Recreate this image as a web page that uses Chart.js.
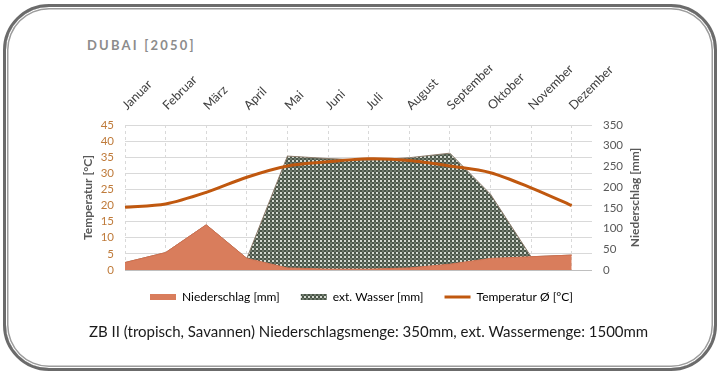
<!DOCTYPE html>
<html lang="de">
<head>
<meta charset="UTF-8">
<title>Dubai 2050</title>
<script src="https://cdn.jsdelivr.net/npm/chart.js"></script>
<style>
  body { margin: 0; padding: 0; background: #fff; font-family: Lato, "Open Sans", sans-serif; }
  #frame {
    position: absolute; left: 3px; top: 4px; width: 714px; height: 367px;
    box-sizing: border-box; border: 3px solid #6b6b6b; border-radius: 46px;
    box-shadow: inset 0 0 0 1px #fff, inset 0 0 0 2.5px #9c9c9c;
  }
  #title {
    position: absolute; left: 87px; top: 37px;
    font-size: 13px; font-weight: bold; letter-spacing: 2.2px; color: #8c8c8c;
  }
  #chart-container { position: absolute; left: 0; top: 0; width: 722px; height: 378px; }
  #caption {
    position: absolute; left: 89px; top: 322px; white-space: nowrap;
    font-size: 15px; color: #1a1a1a;
  }
</style>
</head>
<body>
<div id="frame"></div>
<div id="title">DUBAI [2050]</div>
<div id="chart-container"><canvas id="klima"></canvas></div>
<div id="caption">ZB II (tropisch, Savannen) Niederschlagsmenge: 350mm, ext. Wassermenge: 1500mm</div>

<script>
    // Monate + Werte
    const monate = ['Januar', 'Februar', 'März', 'April', 'Mai', 'Juni', 'Juli',
                    'August', 'September', 'Oktober', 'November', 'Dezember'];
    const niederschlag = [18, 42, 109, 28, 5, 2, 2, 5, 14, 28, 32, 36];        // mm
    const extWasser    = [0, 0, 0, 0, 270, 267, 263, 266, 268, 155, 0, 0];     // mm (gestapelt)
    const temperatur   = [19.5, 20.5, 24.1, 28.8, 32.3, 33.6, 34.5, 34, 32.3, 30.2, 25.5, 20]; // °C

    const tempTicks = { min: 0, max: 45, step: 5 };
    const nsTicks   = { min: 0, max: 350, step: 50 };

    // Punktraster fuer ext. Wasser
    function makePattern() {
        const c = document.createElement('canvas');
        c.width = 4; c.height = 4;
        const p = c.getContext('2d');
        p.fillStyle = '#4a5548';
        p.fillRect(0, 0, 4, 4);
        p.fillStyle = '#d3d9d0';
        p.fillRect(0, 0, 2, 2);
        p.fillStyle = '#6e7a6c';
        p.fillRect(2, 2, 2, 2);
        return p.createPattern(c, 'repeat');
    }
    const raster = makePattern();

    const orange = '#d97d5c';
    const tempColor = '#c0580f';
    const grey = '#595959';
    const rightTitle = 'Niederschlag [mm]';

    // rechter Achsentitel von unten nach oben lesen (wie links)
    const rightTitlePlugin = {
        id: 'rightTitle',
        afterDraw(chart) {
            const s = chart.scales.y2;
            const a = chart.chartArea;
            const c = chart.ctx;
            c.save();
            c.translate(s.right - 4 - 7.2, (a.top + a.bottom) / 2);
            c.rotate(-Math.PI / 2);
            c.font = 'bold 12px Lato';
            c.fillStyle = grey;
            c.textAlign = 'center';
            c.textBaseline = 'middle';
            c.fillText(rightTitle, 0, 0);
            c.restore();
        }
    };

    const ctx = document.getElementById('klima').getContext('2d');
    const chart = new Chart(ctx, {
        type: 'line',
        plugins: [rightTitlePlugin],
        data: {
            labels: monate,
            datasets: [
                {
                    label: 'Niederschlag [mm]',
                    data: niederschlag,
                    yAxisID: 'y2',
                    backgroundColor: orange,
                    borderColor: '#d0704f',
                    borderWidth: 1,
                    pointRadius: 0,
                    tension: 0,
                    fill: 'origin',
                    order: 1
                },
                {
                    label: 'ext. Wasser [mm]',
                    data: extWasser,
                    yAxisID: 'y2',
                    backgroundColor: raster,
                    borderColor: '#8c7b6b',
                    borderWidth: 1,
                    pointRadius: 0,
                    tension: 0,
                    fill: '-1',
                    order: 1
                },
                {
                    label: 'Temperatur Ø [°C]',
                    data: temperatur,
                    yAxisID: 'y',
                    borderColor: tempColor,
                    backgroundColor: tempColor,
                    borderWidth: 3,
                    pointRadius: 0,
                    tension: 0.3,
                    fill: false,
                    order: 0
                }
            ]
        },
        options: {
            responsive: true,
            maintainAspectRatio: false,
            animation: false,
            layout: { padding: { left: 77, right: 76, top: 65, bottom: 65 } },
            plugins: {
                tooltip: { enabled: false },
                legend: {
                    position: 'bottom',
                    labels: {
                        usePointStyle: true,
                        pointStyleWidth: 26,
                        boxHeight: 6,
                        padding: 21,
                        color: grey,
                        font: { family: 'Lato', size: 12 },
                        generateLabels: () => [
                            { text: 'Niederschlag [mm]', fillStyle: orange, strokeStyle: orange, lineWidth: 0, pointStyle: 'rect', datasetIndex: 0, hidden: false },
                            { text: 'ext. Wasser [mm]', fillStyle: raster, strokeStyle: '#8c7b6b', lineWidth: 0, pointStyle: 'rect', datasetIndex: 1, hidden: false },
                            { text: 'Temperatur Ø [°C]', fillStyle: tempColor, strokeStyle: tempColor, lineWidth: 3, pointStyle: 'line', datasetIndex: 2, hidden: false }
                        ]
                    }
                }
            },
            scales: {
                x: {
                    position: 'top',
                    // rechts etwas Luft nach Dezember, wie im Original
                    afterBuildTicks: (scale) => { scale._valueRange = monate.length - 0.5; },
                    afterFit: (scale) => { scale.height = 60; scale.paddingLeft = 0; scale.paddingRight = 0; },
                    grid: { color: '#d9d9d9', drawTicks: false },
                    border: { display: false, dash: [3, 3] },
                    ticks: {
                        maxRotation: 45, minRotation: 45, padding: 12, labelOffset: 10, autoSkip: false,
                        color: '#404040', font: { family: 'Lato', size: 12.5 }
                    }
                },
                y: {
                    position: 'left',
                    min: tempTicks.min, max: tempTicks.max,
                    afterFit: (scale) => { scale.width = 48; },
                    grid: {
                        drawTicks: false,
                        color: (c) => c.tick && c.tick.value === 0 ? '#bfbfbf' : '#d9d9d9'
                    },
                    border: { display: false },
                    ticks: {
                        stepSize: tempTicks.step, padding: 11, autoSkip: false,
                        color: '#bf7b3b', font: { family: 'Lato', size: 11.5 }
                    },
                    title: {
                        display: true, text: 'Temperatur [°C]', color: grey,
                        font: { family: 'Lato', size: 12, weight: 'bold' },
                        padding: { top: 4, bottom: 6 }
                    }
                },
                y2: {
                    position: 'right',
                    stacked: true,
                    min: nsTicks.min, max: nsTicks.max,
                    afterFit: (scale) => { scale.width = 54; },
                    grid: { display: false, drawTicks: false },
                    border: { display: false },
                    ticks: {
                        stepSize: nsTicks.step, padding: 11, autoSkip: false,
                        color: grey, font: { family: 'Lato', size: 11.5 }
                    },
                    title: {
                        display: true, text: rightTitle, color: 'rgba(0,0,0,0)',
                        font: { family: 'Lato', size: 12, weight: 'bold' },
                        padding: { top: 4, bottom: 6 }
                    }
                }
            }
        }
    });
</script>
</body>
</html>
